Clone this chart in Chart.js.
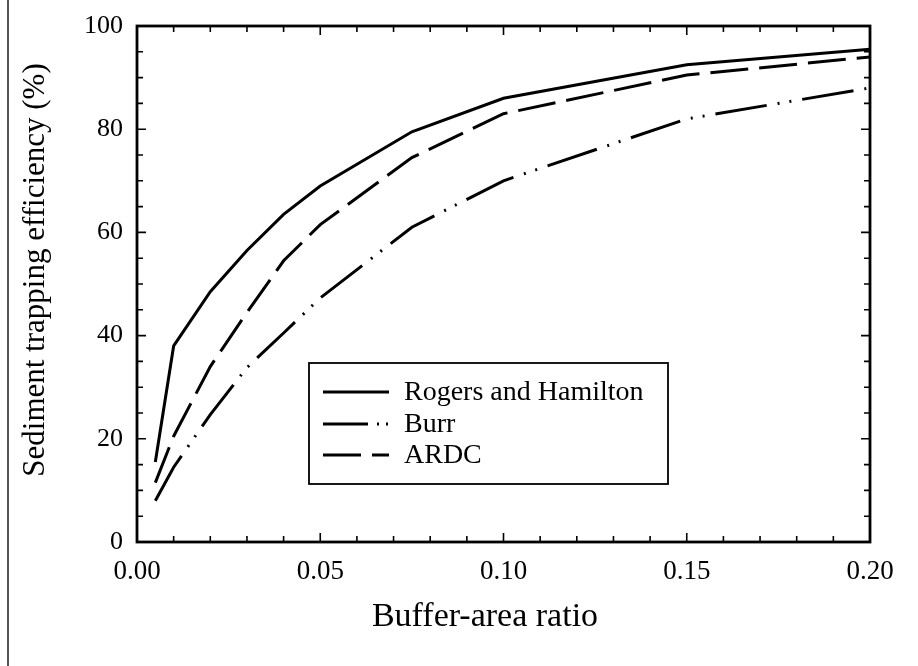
<!DOCTYPE html>
<html>
<head>
<meta charset="utf-8">
<title>Sediment trapping efficiency</title>
<script src="https://cdn.jsdelivr.net/npm/chart.js@4.4.1/dist/chart.umd.min.js"></script>
<style>
  html, body { margin: 0; padding: 0; background: #fff; }
  #wrap { position: relative; width: 918px; height: 666px; }
  #edge { position: absolute; left: 7px; top: 0; width: 2px; height: 666px; background: #555; }
</style>
</head>
<body>
<div id="wrap">
  <canvas id="trapChart" width="918" height="666"></canvas>
  <div id="edge"></div>
</div>
<script>
// buffer-area ratio (x) and trapping efficiency in % (y)
const ratios = [0.005, 0.01, 0.02, 0.03, 0.04, 0.05, 0.075, 0.10, 0.15, 0.20];
const rogersHamilton = [15.5, 38, 48.5, 56.5, 63.5, 69, 79.5, 86, 92.5, 95.5];
const burr = [8, 14.5, 24.7, 33.8, 40.5, 47.3, 61, 70, 82, 88];
const ardc = [11.5, 20.5, 34, 44.5, 54.5, 61.5, 74.5, 83, 90.5, 94];

const xTicks = [0, 0.05, 0.10, 0.15, 0.20];
const yTicks = [0, 20, 40, 60, 80, 100];
const xTitle = 'Buffer-area ratio';
const yTitle = 'Sediment trapping efficiency (%)';

const serif = "'Liberation Serif', 'Times New Roman', serif";
const ink = '#000';

function toPoints(values) {
    return ratios.map((x, i) => ({ x: x, y: values[i] }));
}

// frame and inward tick marks on all four sides
const frameTicks = {
    id: 'frameTicks',
    afterDatasetsDraw(chart) {
        const { ctx, chartArea: a, scales: { x, y } } = chart;
        ctx.save();
        ctx.strokeStyle = ink;
        ctx.lineWidth = 1.6;
        ctx.beginPath();
        for (let i = 0; i <= 20; i++) {
            const px = x.getPixelForValue(i / 100);
            const len = i % 5 === 0 ? 9 : 6;
            ctx.moveTo(px, a.bottom); ctx.lineTo(px, a.bottom - len);
            ctx.moveTo(px, a.top); ctx.lineTo(px, a.top + len);
        }
        for (let i = 0; i <= 20; i++) {
            const py = y.getPixelForValue(i * 5);
            const len = i % 4 === 0 ? 9 : 6;
            ctx.moveTo(a.left, py); ctx.lineTo(a.left + len, py);
            ctx.moveTo(a.right, py); ctx.lineTo(a.right - len, py);
        }
        ctx.stroke();
        ctx.lineWidth = 2.8;
        ctx.strokeRect(a.left, a.top, a.right - a.left, a.bottom - a.top);
        ctx.restore();
    }
};

// axis titles sit a little off the plot centre in the original
const axisTitles = {
    id: 'axisTitles',
    afterDraw(chart) {
        const ctx = chart.ctx;
        ctx.save();
        ctx.fillStyle = ink;
        ctx.textAlign = 'center';
        ctx.textBaseline = 'middle';
        ctx.font = '34px ' + serif;
        ctx.fillText(xTitle, 485, 617);
        ctx.translate(36, 270);
        ctx.rotate(-Math.PI / 2);
        ctx.font = '31px ' + serif;
        ctx.fillText(yTitle, 0, 0);
        ctx.restore();
    }
};

// boxed legend inside the plot
const insetLegend = {
    id: 'insetLegend',
    afterDraw(chart) {
        const ctx = chart.ctx;
        const box = { left: 309, top: 363, right: 668, bottom: 484 };
        const rows = [392, 424, 455];
        ctx.save();
        ctx.strokeStyle = ink;
        ctx.lineWidth = 1.8;
        ctx.strokeRect(box.left, box.top, box.right - box.left, box.bottom - box.top);
        chart.data.datasets.forEach((ds, i) => {
            ctx.beginPath();
            ctx.lineWidth = ds.borderWidth;
            ctx.setLineDash(ds.legendDash || ds.borderDash || []);
            ctx.moveTo(323, rows[i]);
            ctx.lineTo(389, rows[i]);
            ctx.stroke();
            ctx.setLineDash([]);
            ctx.fillStyle = ink;
            ctx.font = '28px ' + serif;
            ctx.textBaseline = 'middle';
            ctx.fillText(ds.label, 404, rows[i] + 1);
        });
        ctx.restore();
    }
};

const lineStyle = {
    borderColor: ink,
    borderWidth: 3,
    pointRadius: 0,
    fill: false,
    tension: 0
};

const ctx = document.getElementById('trapChart').getContext('2d');
const trapChart = new Chart(ctx, {
    type: 'line',
    data: {
        datasets: [{
            label: 'Rogers and Hamilton',
            data: toPoints(rogersHamilton),
            ...lineStyle
        }, {
            label: 'Burr',
            data: toPoints(burr),
            ...lineStyle,
            borderDash: [52, 11, 2, 10, 2, 11],
            legendDash: [45, 9, 2, 7, 2, 60]
        }, {
            label: 'ARDC',
            data: toPoints(ardc),
            ...lineStyle,
            borderDash: [38, 11]
        }]
    },
    options: {
        responsive: false,
        animation: false,
        layout: { padding: { top: 26, right: 48, left: 0, bottom: 0 } },
        plugins: {
            legend: { display: false },
            tooltip: { enabled: false }
        },
        scales: {
            x: {
                type: 'linear',
                min: 0,
                max: 0.2,
                afterFit: function (scale) { scale.height = 124; },
                afterBuildTicks: function (scale) {
                    scale.ticks = xTicks.map(v => ({ value: v }));
                },
                grid: { display: false },
                border: { display: false },
                ticks: {
                    color: ink,
                    padding: 6,
                    maxRotation: 0,
                    font: { family: serif, size: 27 },
                    callback: function (value) { return value.toFixed(2); }
                }
            },
            y: {
                min: 0,
                max: 100,
                afterFit: function (scale) { scale.width = 137; },
                afterBuildTicks: function (scale) {
                    scale.ticks = yTicks.map(v => ({ value: v }));
                },
                grid: { display: false },
                border: { display: false },
                ticks: {
                    color: ink,
                    padding: 6,
                    font: { family: serif, size: 26 }
                }
            }
        }
    },
    plugins: [frameTicks, axisTitles, insetLegend]
});
</script>
</body>
</html>
